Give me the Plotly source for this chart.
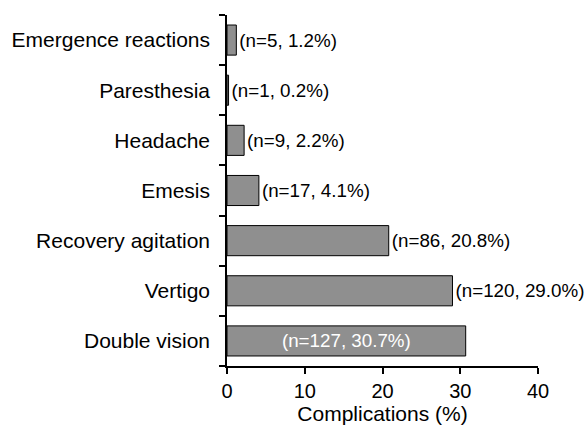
import plotly.graph_objects as go

categories = ["Emergence reactions", "Paresthesia", "Headache", "Emesis",
              "Recovery agitation", "Vertigo", "Double vision"]
counts = [5, 1, 9, 17, 86, 120, 127]
percents = [1.2, 0.2, 2.2, 4.1, 20.8, 29.0, 30.7]
x_ticks = [0, 10, 20, 30, 40]

labels = [f"(n={n}, {p:.1f}%)" for n, p in zip(counts, percents)]
positions = ["inside" if p > 30 else "outside" for p in percents]

FONT = "Liberation Sans, Arial"

fig = go.Figure(go.Bar(
    y=categories, x=percents, orientation="h",
    marker=dict(color="#8f8f8f", line=dict(color="black", width=1)),
    width=0.6,
    text=labels, textposition=positions, insidetextanchor="middle",
    textangle=0, constraintext="none", cliponaxis=False,
    insidetextfont=dict(color="white", size=18.8, family=FONT),
    outsidetextfont=dict(color="black", size=18.8, family=FONT),
))

fig.update_layout(
    width=586, height=432,
    margin=dict(l=227, r=48, t=15, b=66),
    plot_bgcolor="white", paper_bgcolor="white",
    font=dict(family=FONT, color="black", size=21),
    showlegend=False,
    bargap=0.4,
)
fig.update_xaxes(
    range=[0, 40], tickvals=x_ticks, showgrid=False, zeroline=False,
    showline=True, linecolor="black", linewidth=1.5,
    ticks="outside", ticklen=6, tickcolor="black", tickwidth=1.5,
    title=dict(text="Complications (%)", font=dict(size=21), standoff=6),
    tickfont=dict(size=20), automargin=False,
)
fig.update_yaxes(
    categoryorder="array", categoryarray=categories[::-1],
    range=[-0.5, 6.5], showgrid=False, zeroline=False,
    showline=True, linecolor="black", linewidth=1.5,
    ticks="outside", tickson="boundaries", ticklen=6, tickcolor="black", tickwidth=1.5,
    tickfont=dict(size=21), ticklabelstandoff=11, automargin=False,
)

fig.write_html(
    "out.html",
    config={"displayModeBar": False},
    post_script="document.body.style.margin='0';document.body.style.overflow='hidden';",
)
